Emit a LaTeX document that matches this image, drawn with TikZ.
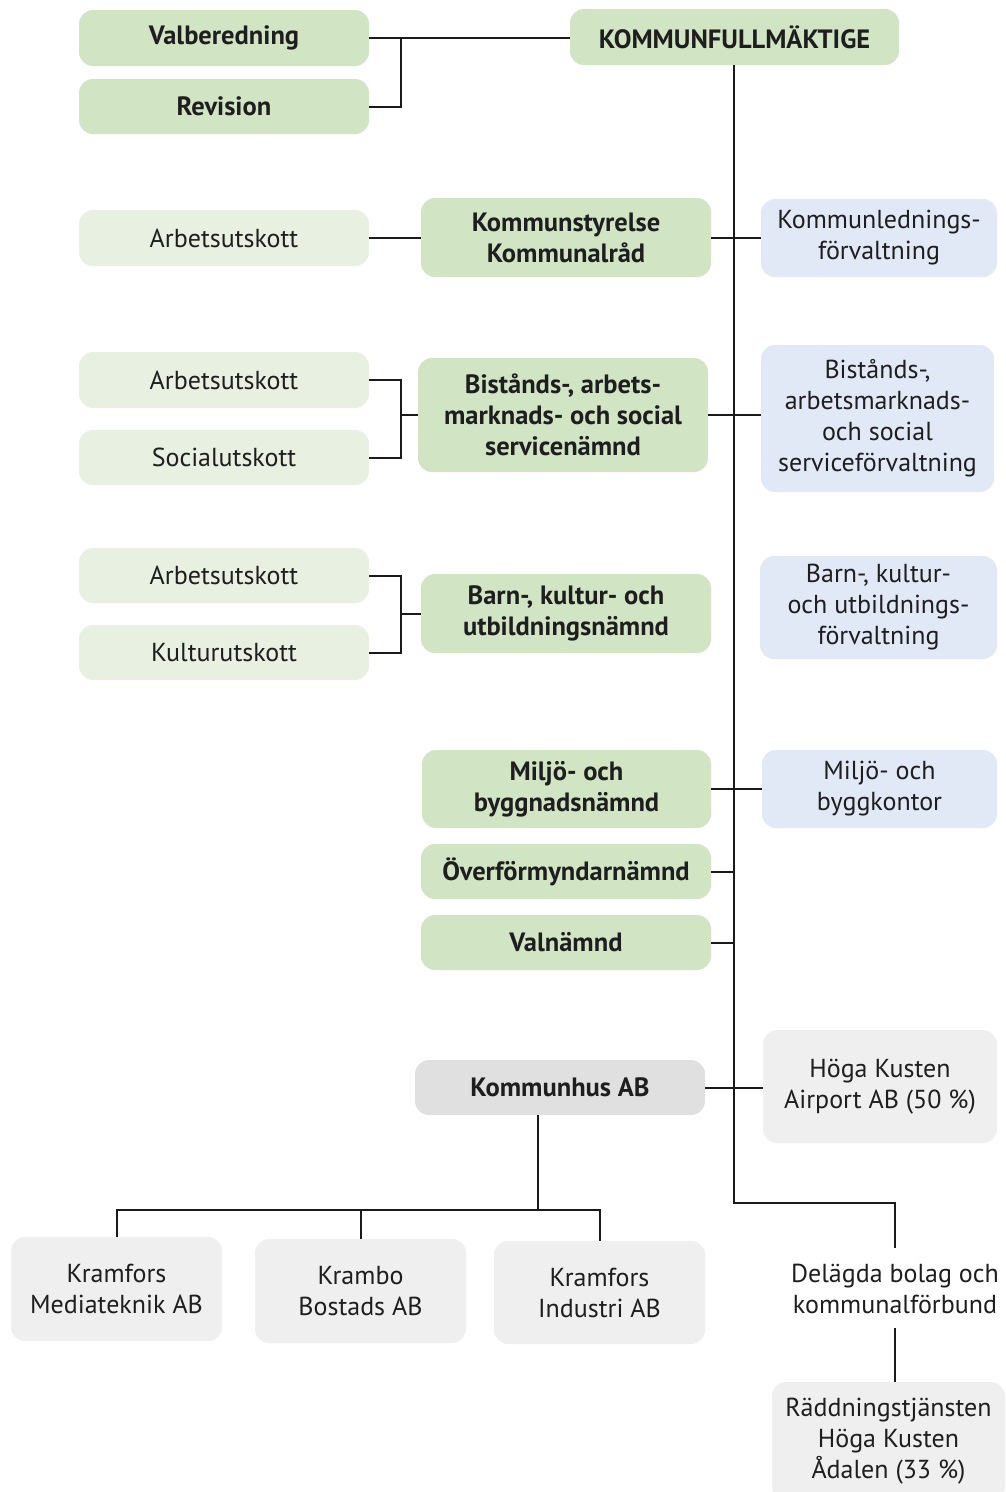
\documentclass[tikz,border=0pt]{standalone}
\usepackage{fontspec}
\setmainfont{PT Sans}
\usetikzlibrary{calc}
\definecolor{kgreen}{HTML}{D1E5C5}
\definecolor{klgreen}{HTML}{E7F0E1}
\definecolor{kblue}{HTML}{E1E9F6}
\definecolor{kgrey}{HTML}{E0E0E0}
\definecolor{klgrey}{HTML}{EFEFEF}
\definecolor{ktext}{HTML}{1E1E1E}
\definecolor{kline}{HTML}{1A1A1A}
\begin{document}
\begin{tikzpicture}[x=1pt,y=-1pt,
  box/.style={rounded corners=14pt, inner sep=0pt, align=center, text=ktext,
    font=\fontsize{26}{31}\selectfont},
  gbox/.style={box, fill=kgreen, font=\fontsize{26.5}{31}\selectfont\bfseries},
  lgbox/.style={box, fill=klgreen},
  bbox/.style={box, fill=kblue},
  dgbox/.style={box, fill=kgrey, font=\fontsize{26.5}{31}\selectfont\bfseries},
  lgrbox/.style={box, fill=klgrey},
  conn/.style={draw=kline, line width=2pt}]
\useasboundingbox (0,0) rectangle (1006,1492);
\fill[white] (0,0) rectangle (1006,1492);

\node[gbox, minimum width=329pt, minimum height=56pt] (kf) at (734.5,37) {KOMMUNFULLMÄKTIGE};
\node[gbox, minimum width=290pt, minimum height=56pt] (val) at (224,38) {Valberedning};
\node[gbox, minimum width=290pt, minimum height=55pt] (rev) at (224,106.5) {Revision};

\node[lgbox, minimum width=290pt, minimum height=56pt] (au1) at (224,238) {Arbetsutskott};
\node[gbox, minimum width=290pt, minimum height=79pt] (ks) at (566,237.5) {Kommunstyrelse\\Kommunalråd};
\node[bbox, minimum width=236pt, minimum height=78pt] (kl) at (879,238) {Kommunlednings-\\förvaltning};

\node[lgbox, minimum width=290pt, minimum height=56pt] (au2) at (224,380) {Arbetsutskott};
\node[lgbox, minimum width=290pt, minimum height=55pt] (soc) at (224,457.5) {Socialutskott};
\node[gbox, minimum width=290pt, minimum height=114pt] (bist) at (563,415) {Bistånds-, arbets-\\marknads- och social\\servicenämnd};
\node[bbox, minimum width=233pt, minimum height=147pt] (bistf) at (877.5,418.5) {Bistånds-,\\arbetsmarknads-\\och social\\serviceförvaltning};

\node[lgbox, minimum width=290pt, minimum height=55pt] (au3) at (224,575.5) {Arbetsutskott};
\node[lgbox, minimum width=290pt, minimum height=55pt] (kul) at (224,652.5) {Kulturutskott};
\node[gbox, minimum width=290pt, minimum height=79pt] (barn) at (566,613.5) {Barn-, kultur- och\\utbildningsnämnd};
\node[bbox, minimum width=237pt, minimum height=103pt] (barnf) at (878.5,607.5) {Barn-, kultur-\\och utbildnings-\\förvaltning};

\node[gbox, minimum width=289pt, minimum height=78pt] (mil) at (566.5,789) {Miljö- och\\byggnadsnämnd};
\node[bbox, minimum width=235pt, minimum height=78pt] (milf) at (879.5,789) {Miljö- och\\byggkontor};
\node[gbox, minimum width=290pt, minimum height=55pt] (over) at (566,871.5) {Överförmyndarnämnd};
\node[gbox, minimum width=290pt, minimum height=55pt] (valn) at (566,942.5) {Valnämnd};

\node[dgbox, minimum width=290pt, minimum height=55pt] (kh) at (560,1087.5) {Kommunhus AB};
\node[lgrbox, minimum width=234pt, minimum height=113pt] (hoga) at (880,1086.5) {Höga Kusten\\Airport AB (50 \%)};

\node[lgrbox, minimum width=211pt, minimum height=104pt] (km) at (116.5,1289) {Kramfors\\Mediateknik AB};
\node[lgrbox, minimum width=211pt, minimum height=104pt] (kb) at (360.5,1291) {Krambo\\Bostads AB};
\node[lgrbox, minimum width=211pt, minimum height=103pt] (ki) at (599.5,1292.5) {Kramfors\\Industri AB};

\node[box, align=center] (del) at (895,1289) {Delägda bolag och\\kommunalförbund};
\node[lgrbox, minimum width=233pt, minimum height=118pt] (rad) at (888.5,1441) {Räddningstjänsten\\Höga Kusten\\Ådalen (33 \%)};

% helper coordinates
\coordinate (mx) at (734,0);
\coordinate (b1) at (401,0);
\coordinate (turn) at (0,1203);
\coordinate (kbus) at (0,1210);
\coordinate (khx) at (538,0);
\coordinate (dtop) at (895,1248);
\coordinate (dbot) at (895,1328);

% connectors
\draw[conn] (val.east) -- (val.east -| kf.west);
\draw[conn] (rev.east) -| (b1 |- val.east);
\draw[conn] (kf.south -| mx) -- (mx |- turn) -| (dtop);
\draw[conn] (dbot) -- (dbot |- rad.north);

\draw[conn] (au1.east) -- (au1.east -| ks.west);
\draw[conn] (ks.east) -- (ks.east -| kl.west);

\draw[conn] (au2.east) -| (b1 |- soc.east) -- (soc.east);
\draw[conn] (bist.west) -- (bist.west -| b1);
\draw[conn] (bist.east) -- (bist.east -| bistf.west);

\draw[conn] (au3.east) -| (b1 |- kul.east) -- (kul.east);
\draw[conn] (barn.west) -- (barn.west -| b1);

\draw[conn] (mil.east) -- (mil.east -| milf.west);
\draw[conn] (over.east) -- (over.east -| mx);
\draw[conn] (valn.east) -- (valn.east -| mx);

\draw[conn] (kh.east) -- (kh.east -| hoga.west);
\draw[conn] (kh.south -| khx) -- (khx |- kbus);
\draw[conn] (km.north) -- (km.north |- kbus) -- (ki.north |- kbus) -- (ki.north);
\draw[conn] (kb.north) -- (kb.north |- kbus);
\end{tikzpicture}
\end{document}
